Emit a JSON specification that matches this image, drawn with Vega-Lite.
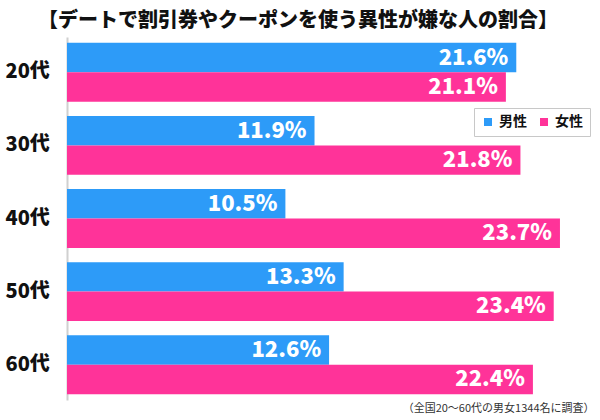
{
  "$schema": "https://vega.github.io/schema/vega-lite/v6.json",
  "width": 520,
  "height": 363,
  "autosize": {"type": "none"},
  "padding": {"left": 67, "top": 37, "right": 13, "bottom": 20},
  "background": "white",
  "config": {
    "font": "Noto Sans CJK JP",
    "view": {"stroke": null},
    "legend": {"strokeColor": "#c8c8c8", "fillColor": "white", "padding": 7}
  },
  "title": {
    "text": "【デートで割引券やクーポンを使う異性が嫌な人の割合】",
    "fontSize": 20,
    "fontWeight": 900,
    "color": "#111",
    "anchor": "middle",
    "dx": -29,
    "offset": 6
  },
  "data": {
    "values": [
      {"age": "20代", "sex": "男性", "v": 21.6},
      {"age": "20代", "sex": "女性", "v": 21.1},
      {"age": "30代", "sex": "男性", "v": 11.9},
      {"age": "30代", "sex": "女性", "v": 21.8},
      {"age": "40代", "sex": "男性", "v": 10.5},
      {"age": "40代", "sex": "女性", "v": 23.7},
      {"age": "50代", "sex": "男性", "v": 13.3},
      {"age": "50代", "sex": "女性", "v": 23.4},
      {"age": "60代", "sex": "男性", "v": 12.6},
      {"age": "60代", "sex": "女性", "v": 22.4}
    ]
  },
  "transform": [{"calculate": "format(datum.v, '.1f') + '%'", "as": "label"}],
  "encoding": {
    "y": {
      "field": "age",
      "type": "nominal",
      "sort": ["20代", "30代", "40代", "50代", "60代"],
      "scale": {"paddingInner": 0.194, "paddingOuter": 0.08},
      "axis": {
        "title": null,
        "ticks": false,
        "tickSize": 0,
        "labelAlign": "left",
        "labelPadding": 62,
        "labelFontSize": 20,
        "labelFontWeight": 900,
        "labelColor": "#111",
        "domainColor": "#d0d0d0",
        "domainWidth": 2
      }
    },
    "yOffset": {
      "field": "sex",
      "type": "nominal",
      "sort": ["男性", "女性"],
      "scale": {"paddingInner": 0, "paddingOuter": 0}
    },
    "x": {
      "field": "v",
      "type": "quantitative",
      "scale": {"domain": [0, 25], "nice": false},
      "axis": {
        "labels": false,
        "ticks": false,
        "domain": false,
        "grid": false,
        "title": "（全国20〜60代の男女1344名に調査）",
        "titleFontSize": 11,
        "titleFontWeight": "normal",
        "titleColor": "#333",
        "titleAnchor": "end",
        "titleAlign": "right",
        "titleX": 527,
        "titlePadding": 2
      }
    }
  },
  "layer": [
    {
      "mark": {"type": "bar"},
      "encoding": {
        "color": {
          "field": "sex",
          "type": "nominal",
          "scale": {"domain": ["男性", "女性"], "range": ["#2D9BF8", "#FF3399"]},
          "legend": {
            "title": null,
            "orient": "none",
            "legendX": 407,
            "legendY": 71,
            "direction": "horizontal",
            "symbolType": "square",
            "symbolSize": 64,
            "symbolStrokeWidth": 0,
            "labelFontSize": 14,
            "labelFontWeight": "bold",
            "labelColor": "#111",
            "labelOffset": 4,
            "columnPadding": 10,
            "fillColor": "white",
            "strokeColor": "#c8c8c8",
            "padding": 7
          }
        }
      }
    },
    {
      "mark": {
        "type": "text",
        "align": "right",
        "baseline": "middle",
        "dx": -8,
        "color": "white",
        "fontSize": 22,
        "fontWeight": 900
      },
      "encoding": {"text": {"field": "label"}}
    }
  ]
}
